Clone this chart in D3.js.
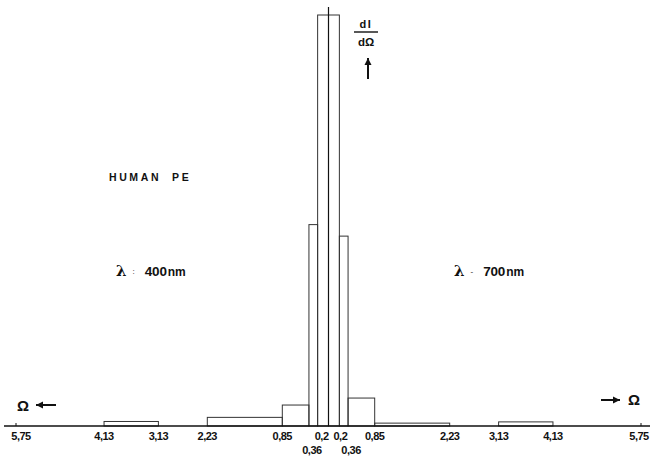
<!DOCTYPE html>
<html><head><meta charset="utf-8">
<script src="https://cdn.jsdelivr.net/npm/d3@7/dist/d3.min.js"></script>
<style>
body{margin:0;background:#fff;}
svg{display:block;}
text{font-family:"Liberation Sans",Arial,sans-serif;fill:#111;}
</style></head>
<body><svg id="c" width="650" height="468"></svg>
<script>
// Bin edges (|Ω|) and histogram values (relative dI/dΩ)
const edges = [0, 0.2, 0.36, 0.85, 2.23, 3.13, 4.13, 5.75];
const left400 = [100, 49, 5.1, 2.1, 0, 1.1, 0];     // λ = 400 nm, drawn to the left
const right700 = [100, 46.2, 6.8, 0.7, 0, 1.0, 0];  // λ = 700 nm, drawn to the right
const tickLabels = ["0,2", "0,36", "0,85", "2,23", "3,13", "4,13", "5,75"];
const tickValues = [0.2, 0.36, 0.85, 2.23, 3.13, 4.13, 5.75];

const svg = d3.select("#c");
const x = d3.scaleLinear().domain([-5.75, 5.75]).range([16, 641]);
const y = d3.scaleLinear().domain([0, 100]).range([426, 15]);

function bins(vals, sign) {
  return vals.map((v, i) => {
    const a = sign * edges[i], b = sign * edges[i + 1];
    return {x0: Math.min(a, b), x1: Math.max(a, b), v};
  }).filter(d => d.v > 0);
}
const all = bins(left400, -1).concat(bins(right700, 1));

svg.append("g").selectAll("rect").data(all).join("rect")
  .attr("x", d => x(d.x0)).attr("width", d => x(d.x1) - x(d.x0))
  .attr("y", d => y(d.v)).attr("height", d => y(0) - y(d.v))
  .attr("fill", "none").attr("stroke", "#333").attr("stroke-width", 1);

// vertical axis line at Ω = 0
svg.append("line").attr("x1", x(0)).attr("x2", x(0)).attr("y1", 7).attr("y2", y(0))
  .attr("stroke", "#111").attr("stroke-width", 1.2);

// baseline
svg.append("line").attr("x1", 4).attr("x2", 650).attr("y1", y(0)).attr("y2", y(0))
  .attr("stroke", "#111").attr("stroke-width", 1.6);
[-5.75, 5.75].forEach(v => svg.append("line").attr("x1", x(v)).attr("x2", x(v))
  .attr("y1", y(0) - 3).attr("y2", y(0)).attr("stroke", "#111"));

// tick labels
const lab = svg.append("g").attr("font-size", 11).attr("font-weight", "bold")
  .attr("text-anchor", "middle").attr("letter-spacing", "-0.5");
tickValues.forEach((v, i) => {
  const low = v === 0.36;
  const baseY = low ? 454 : 440;
  const dxL = v === 0.2 ? 4 : (v === 0.36 ? 3 : (v === 5.75 ? 5 : 0));
  const dxR = v === 0.2 ? 1 : (v === 0.36 ? 3 : (v === 5.75 ? -2 : 0));
  lab.append("text").attr("x", x(-v) + dxL).attr("y", baseY).text(tickLabels[i]);
  lab.append("text").attr("x", x(v) + dxR).attr("y", baseY).text(tickLabels[i]);
});

// annotations
svg.append("text").attr("x", 109).attr("y", 181).attr("font-size", 10.5)
  .attr("font-weight", "bold").attr("letter-spacing", "2.6")
  .attr("xml:space", "preserve").text("HUMAN  PE");

function lam(xp, sep, val) {
  const t = svg.append("text").attr("x", xp).attr("y", 276);
  t.append("tspan").attr("font-size", 15).attr("font-family", "DejaVu Serif").attr("font-weight", "bold").text("λ");
  t.append("tspan").attr("font-size", 8).attr("dx", 6).attr("dy", -2).text(sep);
  t.append("tspan").attr("font-size", 13.5).attr("font-weight", "bold").attr("dx", 10).attr("dy", 2)
    .attr("letter-spacing", "-0.2").text(val);
  t.append("tspan").attr("font-size", 12).attr("font-weight", "bold").attr("dx", 1).text("nm");
}
lam(116, ":", "400");
lam(454, "-", "700");

// dI/dΩ label
svg.append("text").attr("x", 366).attr("y", 28).attr("text-anchor", "middle")
  .attr("font-size", 11).attr("font-weight", "bold").attr("letter-spacing", "1.5").text("dI");
svg.append("line").attr("x1", 354).attr("x2", 378).attr("y1", 32).attr("y2", 32)
  .attr("stroke", "#111").attr("stroke-width", 1.4);
svg.append("text").attr("x", 366).attr("y", 46).attr("text-anchor", "middle")
  .attr("font-size", 11.5).attr("font-weight", "bold").text("dΩ");

function arrow(x1, y1, x2, y2) {
  svg.append("line").attr("x1", x1).attr("y1", y1).attr("x2", x2).attr("y2", y2)
    .attr("stroke", "#111").attr("stroke-width", 2);
  const ang = Math.atan2(y2 - y1, x2 - x1), L = 7, W = 3.5;
  const p = [[x2, y2],
    [x2 - L * Math.cos(ang) + W * Math.sin(ang), y2 - L * Math.sin(ang) - W * Math.cos(ang)],
    [x2 - L * Math.cos(ang) - W * Math.sin(ang), y2 - L * Math.sin(ang) + W * Math.cos(ang)]];
  svg.append("path").attr("d", "M" + p.join("L") + "Z").attr("fill", "#111");
}
arrow(368, 79, 368, 58);
arrow(56, 405, 36, 405);
arrow(601, 400, 620, 400);

svg.append("text").attr("x", 23).attr("y", 411).attr("text-anchor", "middle")
  .attr("font-size", 15).attr("font-weight", "bold").text("Ω");
svg.append("text").attr("x", 634).attr("y", 405).attr("text-anchor", "middle")
  .attr("font-size", 15).attr("font-weight", "bold").text("Ω");
</script></body></html>
